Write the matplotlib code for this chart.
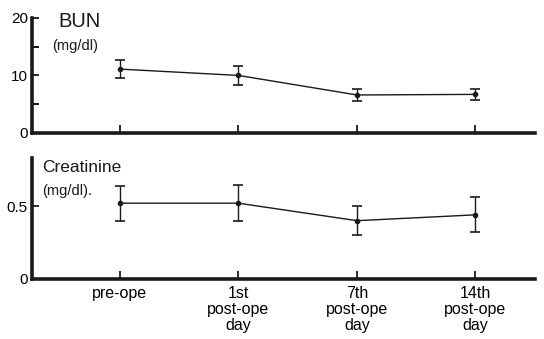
import numpy as np
import matplotlib
matplotlib.use("Agg")
import matplotlib.pyplot as plt

plt.rcParams['font.family'] = ['Liberation Sans', 'DejaVu Sans']

days = ["pre-ope", "1st\npost-ope\nday", "7th\npost-ope\nday", "14th\npost-ope\nday"]
bun = [11.1, 10.0, 6.6, 6.7]
bun_err = [1.5, 1.6, 1.1, 1.0]
cre = [0.52, 0.52, 0.40, 0.44]
cre_err = [0.12, 0.125, 0.10, 0.12]

INK = "#1a1a1a"
fig = plt.figure(figsize=(5.44, 3.39), dpi=100)
ax1 = fig.add_axes([0.059, 0.608, 0.924, 0.339])
ax2 = fig.add_axes([0.059, 0.177, 0.924, 0.357])
x = np.arange(len(days))

for ax, v, e in [(ax1, bun, bun_err), (ax2, cre, cre_err)]:
    ax.errorbar(x, v, yerr=e, color=INK, lw=1.0, marker="o", ms=3,
                capsize=3.8, capthick=1.2, elinewidth=1.0)
    ax.set_xlim(-0.74, 3.5)
    ax.set_xticks(x)
    for k in ("top", "right"):
        ax.spines[k].set_visible(False)
    for k in ("left", "bottom"):
        ax.spines[k].set_linewidth(2.6)
        ax.spines[k].set_color(INK)
    ax.tick_params(axis="x", direction="in", length=6, width=1.3, color=INK)
    ax.tick_params(axis="y", direction="in", length=5, width=1.3, color=INK,
                   labelsize=11, pad=3)

ax1.set_ylim(0, 20)
ax1.set_yticks([0, 10, 20])
ax1.set_yticks([5, 15], minor=True)
ax1.tick_params(axis="y", which="minor", direction="in", length=5, width=1.3)
ax1.set_xticklabels([])
ax1.text(0.052, 0.97, "BUN", transform=ax1.transAxes, fontsize=14.5, va="center", color=INK)
ax1.text(0.04, 0.76, "(mg/dl)", transform=ax1.transAxes, fontsize=10.5, va="center", color=INK)

ax2.set_ylim(0, 0.83)
ax2.set_yticks([0, 0.5])
ax2.set_yticklabels(["0", "0.5"])
ax2.set_xticklabels(days, fontsize=11.5, linespacing=1.1)
ax2.tick_params(axis="x", pad=5)
ax2.text(0.02, 0.92, "Creatinine", transform=ax2.transAxes, fontsize=12.5, va="center", color=INK)
ax2.text(0.02, 0.73, "(mg/dl).", transform=ax2.transAxes, fontsize=10.5, va="center", color=INK)

fig.savefig("out.png", dpi=100)
